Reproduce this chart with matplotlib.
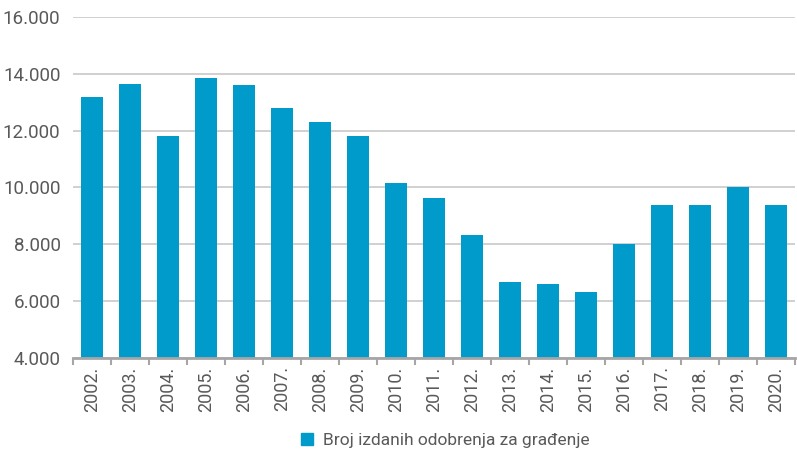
import matplotlib
matplotlib.use('Agg')
import matplotlib.pyplot as plt
from matplotlib.ticker import FuncFormatter, FixedLocator
from matplotlib.patches import Patch
import numpy as np

# podaci
godine = ['2002.', '2003.', '2004.', '2005.', '2006.', '2007.', '2008.', '2009.', '2010.', '2011.',
          '2012.', '2013.', '2014.', '2015.', '2016.', '2017.', '2018.', '2019.', '2020.']
odobrenja = [13200, 13650, 11800, 13850, 13600, 12780, 12300, 11800, 10150, 9620,
             8330, 6680, 6600, 6320, 8000, 9400, 9400, 10000, 9400]
y_ticks = [4000, 6000, 8000, 10000, 12000, 14000, 16000]
legenda = 'Broj izdanih odobrenja za građenje'

plava = '#009bcb'
siva_tekst = '#595959'

plt.rcParams['font.family'] = ['Roboto', 'DejaVu Sans']

fig = plt.figure(figsize=(7.97, 4.5), dpi=100)
ax = fig.add_axes([0.0916, 0.2044, 0.906, 0.758])

x = np.arange(len(godine))
ax.bar(x, odobrenja, width=0.58, color=plava, zorder=3)

ax.set_xlim(-0.5, len(godine) - 0.5)
ax.set_ylim(4000, 16000)
ax.set_yticks(y_ticks)
ax.yaxis.set_major_formatter(FuncFormatter(lambda v, p: f'{int(v):,}'.replace(',', '.')))
ax.grid(axis='y', color='#c8c8c8', linewidth=1.2, zorder=0)

ax.set_xticks(x)
ax.set_xticklabels(godine, rotation=90)
ax.xaxis.set_minor_locator(FixedLocator(np.arange(-0.5, len(godine), 1)))
ax.tick_params(axis='x', which='major', length=0, pad=6, labelsize=13, labelcolor=siva_tekst)
ax.tick_params(axis='x', which='minor', length=5, width=1.5, color='#a6a6a6')
ax.tick_params(axis='y', length=0, pad=9, labelsize=13.5, labelcolor=siva_tekst)

for s in ['top', 'right', 'left']:
    ax.spines[s].set_visible(False)
ax.spines['bottom'].set_color('#a6a6a6')
ax.spines['bottom'].set_linewidth(2)
ax.spines['bottom'].set_zorder(4)

fig.legend(handles=[Patch(color=plava, label=legenda)], loc='center', bbox_to_anchor=(0.559, 0.022),
           frameon=False, fontsize=12.5, handlelength=0.7, handleheight=0.7, handletextpad=0.6,
           labelcolor=siva_tekst)

fig.savefig('out.png', dpi=100)
